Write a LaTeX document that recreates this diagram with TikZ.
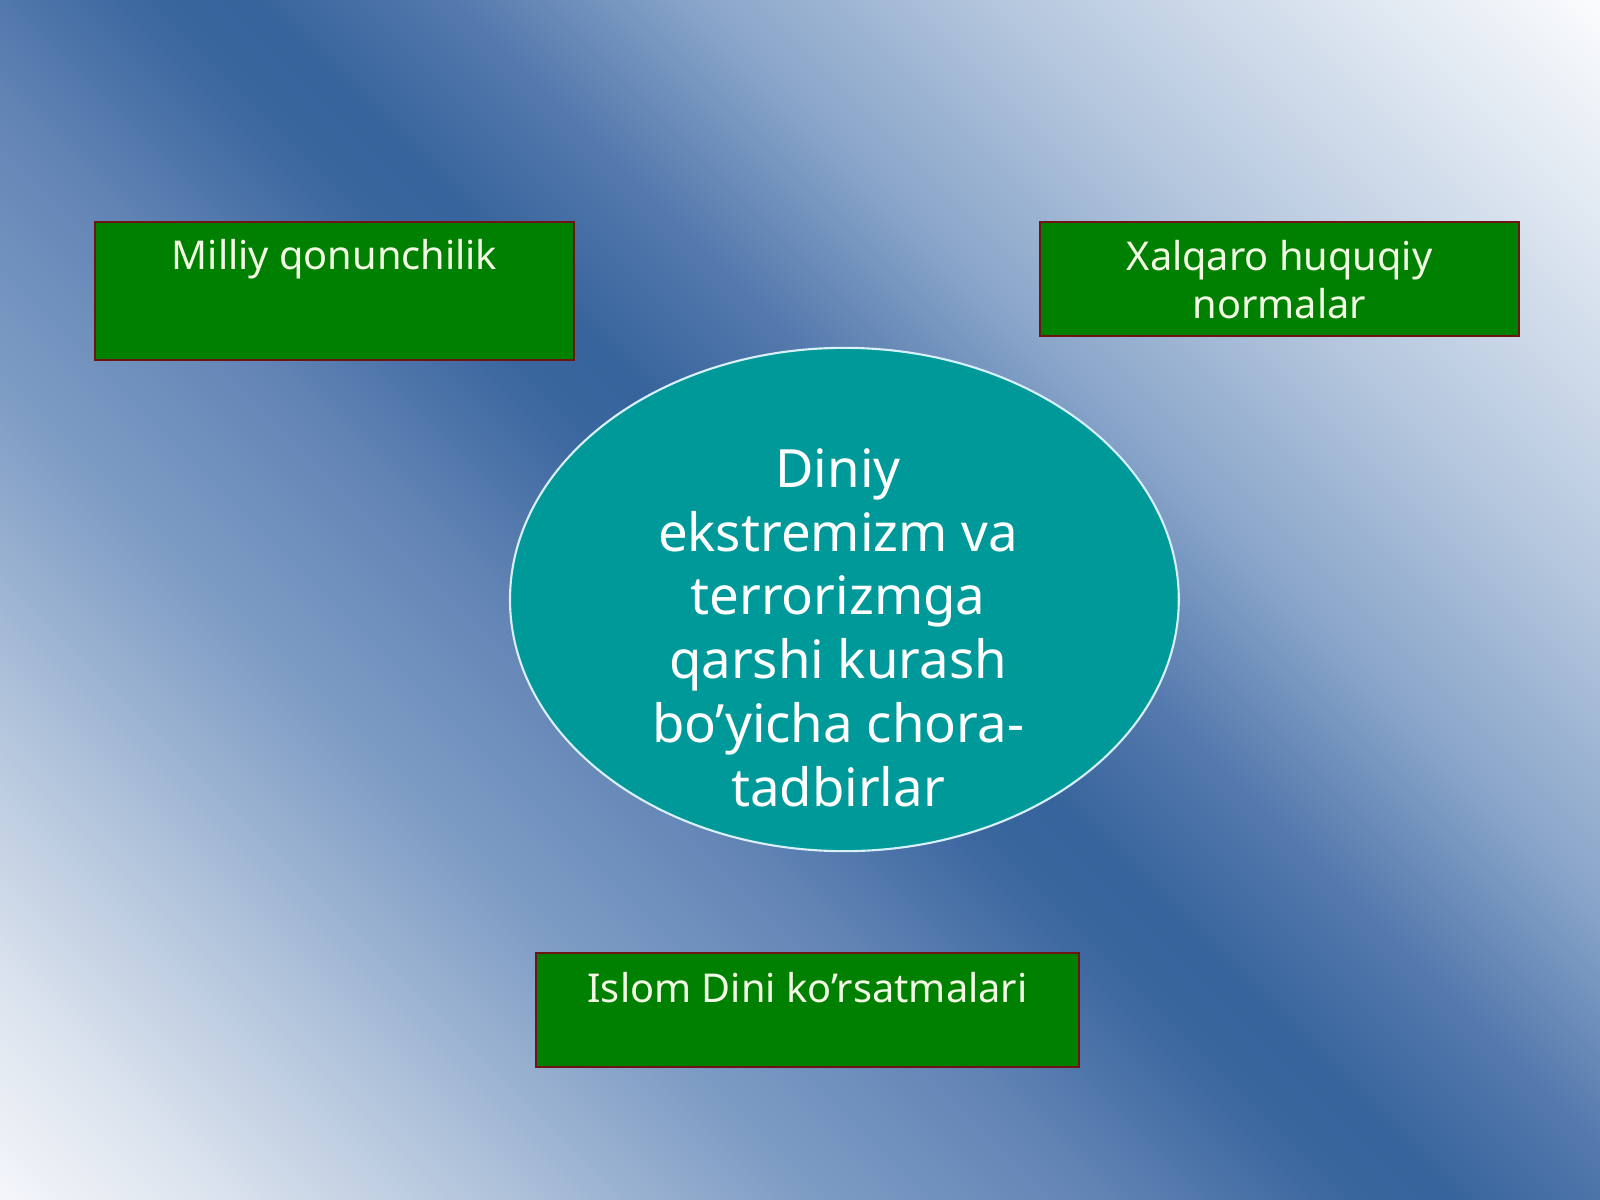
\documentclass[tikz,border=0pt]{standalone}
\usepackage{fontspec}
\setmainfont{Noto Sans}
\usetikzlibrary{shapes.geometric}
\definecolor{boxgreen}{RGB}{0,128,0}
\definecolor{boxedge}{RGB}{110,20,20}
\definecolor{tealfill}{RGB}{0,153,153}
\definecolor{elledge}{RGB}{215,240,250}
\definecolor{boxtext}{RGB}{242,250,228}
\definecolor{bgA}{RGB}{244,246,250}
\definecolor{bgB}{RGB}{222,229,239}
\definecolor{bgC}{RGB}{176,195,219}
\definecolor{bgD}{RGB}{127,157,197}
\definecolor{bgE}{RGB}{98,132,181}
\definecolor{bgF}{RGB}{58,102,158}
\definecolor{bgG}{RGB}{55,100,156}
\definecolor{bgH}{RGB}{84,121,173}
\definecolor{bgI}{RGB}{138,166,202}
\definecolor{bgJ}{RGB}{181,199,222}
\definecolor{bgK}{RGB}{216,226,238}
\definecolor{bgL}{RGB}{251,252,253}
\pgfdeclarehorizontalshading{bgshade}{100bp}{color(0bp)=(bgA); color(25bp)=(bgA); color(28.571bp)=(bgB); color(33.929bp)=(bgC); color(39.286bp)=(bgD); color(44.643bp)=(bgE); color(49.107bp)=(bgF); color(50.893bp)=(bgG); color(54.464bp)=(bgH); color(58.929bp)=(bgI); color(64.286bp)=(bgJ); color(69.643bp)=(bgK); color(75bp)=(bgL); color(100bp)=(bgL)}
\tikzset{
  greenbox/.style={draw=boxedge, line width=0.5pt, fill=boxgreen, inner sep=0pt, text=boxtext,
    font=\fontsize{11.3pt}{13.66pt}\selectfont},
  centreoval/.style={ellipse, draw=elledge, line width=0.6pt, fill=tealfill, inner sep=0pt},
  ovaltext/.style={text=white, align=center, inner sep=0pt, font=\fontsize{15pt}{18.12pt}\selectfont}
}
\begin{document}
\begin{tikzpicture}[x=0.01cm, y=-0.01cm]
\useasboundingbox (0,0) rectangle (1600,1200);
\begin{scope}
  \clip (0,0) rectangle (1600,1200);
  \begin{scope}[transform canvas={rotate=45}]
    \shade[shading=bgshade] (-8.485cm,-20.5cm) rectangle (11.314cm,0.6cm);
  \end{scope}
\end{scope}

\node[greenbox, anchor=north west] (milliy) at (94,221)
  {\parbox[t][1.38cm][t]{4.79cm}{\centering\rule{0pt}{0.48cm}Milliy qonunchilik}};
\node[greenbox, anchor=north west] (xalqaro) at (1039,221)
  {\parbox[t][1.14cm][t]{4.79cm}{\centering\rule{0pt}{0.49cm}Xalqaro huquqiy\\normalar}};
\node[greenbox, anchor=north west] (islom) at (535,952)
  {\parbox[t][1.14cm][t]{5.43cm}{\centering\rule{0pt}{0.50cm}Islom Dini ko’rsatmalari}};

\node[centreoval, minimum width=6.684cm, minimum height=5.03cm] (oval) at (844.4,599.5) {};
\node[ovaltext] (ovaltxt) at (838,634)
  {\strut Diniy\\\strut ekstremizm va\\\strut terrorizmga\\\strut qarshi kurash\\\strut bo’yicha chora-\\\strut tadbirlar};
\end{tikzpicture}
\end{document}
